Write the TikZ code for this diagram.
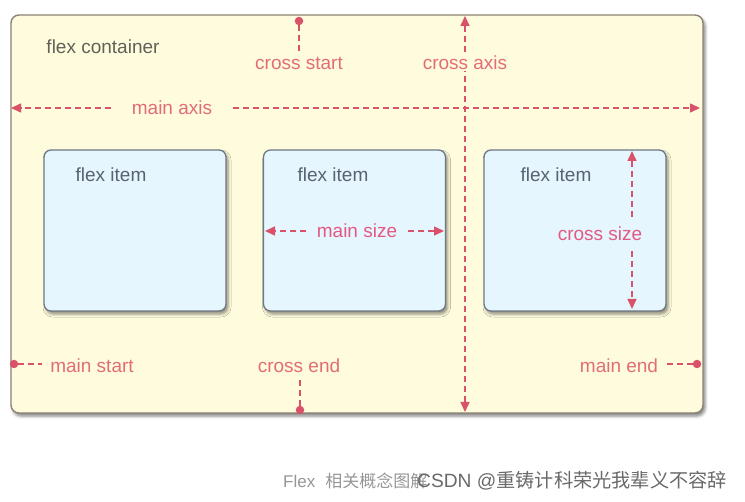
\documentclass[tikz,border=0pt]{standalone}
\usepackage{fontspec}
\setmainfont{Liberation Sans}
\newfontfamily\cjk{Noto Sans CJK SC}
\usetikzlibrary{arrows.meta,shadows.blur}
\definecolor{contfill}{RGB}{255,252,222}
\definecolor{contborder}{RGB}{140,130,115}
\definecolor{itemfill}{RGB}{230,246,254}
\definecolor{itemborder}{RGB}{110,120,132}
\definecolor{linered}{RGB}{218,82,105}
\definecolor{labred}{RGB}{226,108,122}
\definecolor{sizered}{RGB}{226,90,130}
\definecolor{darktext}{RGB}{100,95,88}
\definecolor{itemtext}{RGB}{88,98,112}
\definecolor{capgray}{RGB}{150,150,150}
\definecolor{wmgray}{RGB}{105,105,105}
\begin{document}
\begin{tikzpicture}[x=1pt,y=-1pt,
  container/.style={draw=contborder, line width=1.4pt, fill=contfill, rounded corners=8pt,
    minimum width=692pt, minimum height=398pt, inner sep=0pt,
    blur shadow={shadow xshift=2pt, shadow yshift=-3pt, shadow blur radius=3pt, shadow opacity=50}},
  itembox/.style={draw=itemborder, line width=1.3pt, fill=itemfill, rounded corners=7pt,
    minimum width=182pt, minimum height=161pt, inner sep=0pt,
    blur shadow={shadow xshift=2pt, shadow yshift=-3pt, shadow blur radius=3pt, shadow opacity=45}},
  lbl/.style={text=labred, font=\fontsize{19}{22}\selectfont, inner sep=0pt},
  sizelbl/.style={text=sizered, font=\fontsize{19}{22}\selectfont, inner sep=0pt},
  itemlbl/.style={text=itemtext, font=\fontsize{19}{22}\selectfont, inner sep=0pt},
  axisline/.style={draw=linered, line width=1.5pt, dash pattern=on 6pt off 4pt},
  tip/.style={-{Triangle[length=10pt,width=9pt]}},
  bothtips/.style={{Triangle[length=10pt,width=9pt]}-{Triangle[length=10pt,width=9pt]}},
  dot/.style={circle, fill=linered, inner sep=0pt, minimum size=8.5pt}
]
\useasboundingbox (0,0) rectangle (745,502);

% container and items
\node[container] (cont) at (357,214) {};
\node[itembox] (item1) at (135,230.5) {};
\node[itembox] (item2) at (354.5,230.5) {};
\node[itembox] (item3) at (575,230.5) {};

\node[text=darktext, font=\fontsize{19}{22}\selectfont, inner sep=0pt] (fc) at (103,47) {flex container};
\node[itemlbl] (fi1) at (111,175) {flex item};
\node[itemlbl] (fi2) at (333,175) {flex item};
\node[itemlbl] (fi3) at (556,175) {flex item};

% cross axis
\coordinate (caT) at (465,16);
\coordinate (caB) at (465,412);
\draw[axisline,bothtips] (caT) -- (caB);
\node[lbl, fill=contfill, inner sep=1pt] (calab) at (465,63) {cross axis};

% main axis
\coordinate (maL) at (11,108);
\coordinate (maR) at (700,108);
\node[lbl, inner xsep=21pt] (malab) at (172,108) {main axis};
\draw[axisline,tip] (malab) -- (maL);
\draw[axisline,tip] (malab) -- (maR);

% cross start
\node[dot] (csdot) at (299,21) {};
\node[lbl] (cslab) at (299,63) {cross start};
\draw[axisline, shorten >=5pt] (csdot) -- (csdot |- cslab.north);

% cross end
\node[dot] (cedot) at (300,410) {};
\node[lbl] (celab) at (299,366) {cross end};
\draw[axisline, shorten >=6pt] (cedot) -- (cedot |- celab.south);

% main start
\node[dot] (msdot) at (14,364) {};
\node[lbl] (mslab) at (92,366) {main start};
\draw[axisline, shorten >=8pt] (msdot) -- (mslab.west |- msdot);

% main end
\node[dot] (medot) at (697,364) {};
\node[lbl] (melab) at (619,366) {main end};
\draw[axisline, shorten >=6pt] (medot) -- (melab.east |- medot);

% main size
\coordinate (msL) at (265,231);
\coordinate (msR) at (444,231);
\node[sizelbl, inner xsep=11pt] (mszlab) at (357,231) {main size};
\draw[axisline,tip] (mszlab) -- (msL);
\draw[axisline,tip] (mszlab) -- (msR);

% cross size
\coordinate (czT) at (632,151);
\coordinate (czB) at (632,309);
\draw[axisline,bothtips] (czT) -- (czB);
\node[sizelbl, fill=itemfill, inner ysep=6pt, inner xsep=1pt] (czlab) at (600,234) {cross size};

% caption and watermark
\node[anchor=west, text=capgray, font=\fontsize{17}{20}\selectfont, inner sep=0pt] (cap) at (283,481) {Flex\hspace{10pt}{\cjk 相关概念图解}};
\node[anchor=west, text=wmgray, font=\fontsize{19.2}{22}\selectfont, inner sep=0pt] (wm) at (417,481) {CSDN @{\cjk 重铸计科荣光我辈义不容辞}};
\end{tikzpicture}
\end{document}
